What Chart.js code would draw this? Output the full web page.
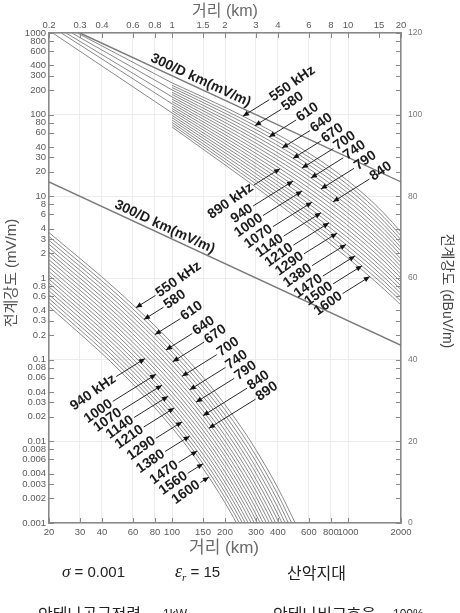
<!DOCTYPE html>
<html>
<head>
<meta charset="utf-8">
<script src="https://cdn.jsdelivr.net/npm/chart.js@4.4.1/dist/chart.umd.min.js"></script>
<style>
html, body { margin: 0; padding: 0; background: #fff; }
canvas { display: block; }
</style>
</head>
<body>
<canvas id="chart" width="460" height="613"></canvas>
<script>
Chart.defaults.font.family = 'Arial, "Liberation Sans", sans-serif';

// 주파수 (kHz) - 곡선 20개
const freqs = [550, 580, 610, 640, 670, 700, 740, 790, 840, 890, 940, 1000, 1070, 1140, 1210, 1290, 1380, 1470, 1560, 1600];

// 근거리 곡선 (상단 축, km) / 전계강도 mV/m
const nearDist = [1, 2, 3, 5, 8, 12, 16, 20];
const nearField = [
  [245, 123, 79.4, 43.0, 22.2, 11.15, 6.20, 3.65],
  [229, 113, 72.2, 38.6, 19.8, 9.94, 5.54, 3.28],
  [215, 104, 65.6, 34.7, 17.7, 8.86, 4.95, 2.94],
  [201, 95.2, 59.6, 31.2, 15.8, 7.90, 4.43, 2.64],
  [188, 87.4, 54.1, 28.1, 14.1, 7.04, 3.95, 2.37],
  [177, 80.3, 49.2, 25.2, 12.6, 6.28, 3.53, 2.13],
  [165, 73.7, 44.7, 22.7, 11.2, 5.59, 3.16, 1.91],
  [155, 67.7, 40.6, 20.4, 10.0, 4.99, 2.82, 1.71],
  [145, 62.1, 36.9, 18.3, 8.96, 4.45, 2.52, 1.54],
  [136, 57.0, 33.5, 16.5, 8.00, 3.96, 2.25, 1.38],
  [127, 52.4, 30.5, 14.8, 7.14, 3.53, 2.01, 1.24],
  [119, 48.1, 27.7, 13.3, 6.38, 3.15, 1.80, 1.11],
  [112, 44.2, 25.2, 11.9, 5.69, 2.81, 1.61, 0.997],
  [105, 40.5, 22.9, 10.7, 5.08, 2.50, 1.43, 0.894],
  [98.0, 37.2, 20.8, 9.65, 4.54, 2.23, 1.28, 0.803],
  [91.8, 34.2, 18.9, 8.67, 4.05, 1.99, 1.145, 0.720],
  [86.0, 31.4, 17.2, 7.79, 3.62, 1.77, 1.02, 0.646],
  [80.5, 28.8, 15.6, 7.00, 3.23, 1.58, 0.914, 0.580],
  [75.4, 26.5, 14.2, 6.30, 2.88, 1.41, 0.817, 0.520],
  [70.6, 24.3, 12.9, 5.66, 2.58, 1.26, 0.730, 0.467]
];

// 0.2~1 km 구간 선
const shortStartDist = [0.29, 0.27, 0.25, 0.235, 0.21];
const shortEndField = [245, 201, 165, 136, 105];

// 원거리 곡선 (하단 축, km)
const farDist = [20, 50, 100, 150, 200, 250, 300, 400, 500];
const farField = [
  [3.60, 0.673, 0.160, 0.0610, 0.0281, 0.0144, 0.00785, 0.00267, 0.00101],
  [3.22, 0.600, 0.141, 0.0532, 0.0243, 0.0123, 0.00665, 0.00222, 0.00082],
  [2.89, 0.535, 0.124, 0.0465, 0.0210, 0.0105, 0.00564, 0.00185, 0.000667],
  [2.59, 0.477, 0.110, 0.0406, 0.0181, 0.00900, 0.00478, 0.00153, 0.000543],
  [2.32, 0.424, 0.0968, 0.0355, 0.0157, 0.00771, 0.00405, 0.00127, 0.000443],
  [2.08, 0.378, 0.0853, 0.0310, 0.0136, 0.00659, 0.00343, 0.00106, 0.00036],
  [1.87, 0.337, 0.0753, 0.0270, 0.0117, 0.00565, 0.00290, 0.000877, 0.000293],
  [1.67, 0.300, 0.0664, 0.0236, 0.0101, 0.00483, 0.00247, 0.000729, 0.000239],
  [1.50, 0.267, 0.0586, 0.0206, 0.00875, 0.00413, 0.00209, 0.000605, 0.000194],
  [1.34, 0.238, 0.0516, 0.0180, 0.00757, 0.00354, 0.00177, 0.000502, 0.000158],
  [1.20, 0.212, 0.0456, 0.0157, 0.00655, 0.00303, 0.00150, 0.000418],
  [1.08, 0.189, 0.0402, 0.0137, 0.00566, 0.00259, 0.00127, 0.000347],
  [0.968, 0.168, 0.0355, 0.0120, 0.00489, 0.00222, 0.00108, 0.000288],
  [0.867, 0.150, 0.0313, 0.0105, 0.00423, 0.00190, 0.000912, 0.000239],
  [0.778, 0.134, 0.0276, 0.00914, 0.00366, 0.00163, 0.000773],
  [0.697, 0.119, 0.0243, 0.00798, 0.00316, 0.00139, 0.000655],
  [0.625, 0.106, 0.0215, 0.00697, 0.00274, 0.00119, 0.000555],
  [0.560, 0.0944, 0.0189, 0.00608, 0.00237, 0.00102, 0.000471],
  [0.502, 0.0841, 0.0167, 0.00532, 0.00204, 0.000873, 0.000399],
  [0.450, 0.0750, 0.0147, 0.00465, 0.00177, 0.000746, 0.000338]
];

// 300/D 기준선
const refNearDist = [0.3, 20];
const refNearField = [1000, 15];
const refFarDist = [20, 2000];
const refFarField = [15, 0.15];

// 눈금
const nearTicks = [0.2, 0.3, 0.4, 0.6, 0.8, 1, 1.5, 2, 3, 4, 6, 8, 10, 15, 20];
const farTicks = [20, 30, 40, 60, 80, 100, 150, 200, 300, 400, 600, 800, 1000, 2000];
const fieldTicks = [0.001, 0.002, 0.003, 0.004, 0.006, 0.008, 0.01, 0.02, 0.03, 0.04, 0.06, 0.08,
  0.1, 0.2, 0.3, 0.4, 0.6, 0.8, 1, 2, 3, 4, 6, 8, 10, 20, 30, 40, 60, 80, 100, 200, 300, 400, 600, 800, 1000];
const dbDecades = [0.001, 0.01, 0.1, 1, 10, 100, 1000];
const dbTicks = [0, 20, 40, 60, 80, 100, 120];

// 곡선 라벨 (텍스트, 점의 거리)
const nearOutText = ['550 kHz', '580', '610', '640', '670', '700', '740', '790', '840'];
const nearOutDot = [2.53, 2.96, 3.56, 4.22, 4.87, 5.48, 6.16, 7.02, 8.22];
const nearInText = ['890 kHz', '940', '1000', '1070', '1140', '1210', '1290', '1380', '1470', '1500', '1600'];
const nearInDot = [4.11, 4.87, 5.48, 6.24, 7.02, 7.80, 8.66, 9.74, 10.96, 12.0, 13.3];
const farOutText = ['550 kHz', '580', '610', '640', '670', '700', '740', '790', '840', '890'];
const farOutDot = [62.4, 69.3, 80.0, 92.4, 101, 114, 126, 137, 150, 162];
const farInText = ['940 kHz', '1000', '1070', '1140', '1210', '1290', '1380', '1470', '1560', '1600'];
const farInDot = [70.2, 81.1, 87.7, 94.9, 103, 114, 126, 139, 150, 162];

const curveColor = '#8a8a8a';
const datasets = [];
nearField.forEach(row => {
  datasets.push({ xAxisID: 'xTop', yAxisID: 'y', data: row.map((v, k) => ({ x: nearDist[k], y: v })),
    borderColor: curveColor, borderWidth: 1 });
});
farField.forEach(row => {
  datasets.push({ xAxisID: 'x', yAxisID: 'y', data: row.map((v, k) => ({ x: farDist[k], y: v })),
    borderColor: curveColor, borderWidth: 1 });
});
shortStartDist.forEach((d, k) => {
  datasets.push({ xAxisID: 'xTop', yAxisID: 'y', data: [{ x: d, y: 1000 }, { x: 1, y: shortEndField[k] }],
    borderColor: curveColor, borderWidth: 1 });
});
const refNearIndex = datasets.length;
datasets.push({ xAxisID: 'xTop', yAxisID: 'y', data: refNearDist.map((d, k) => ({ x: d, y: refNearField[k] })),
  borderColor: '#7a7a7a', borderWidth: 1.4 });
const refFarIndex = datasets.length;
datasets.push({ xAxisID: 'x', yAxisID: 'y', data: refFarDist.map((d, k) => ({ x: d, y: refFarField[k] })),
  borderColor: '#7a7a7a', borderWidth: 1.4 });

// 라벨 그룹: 선 길이(px)는 그림에서 읽은 값
const labelGroups = [
  { scale: 'xTop', first: 0, text: nearOutText, dots: nearOutDot, out: true,
    len: [31, 31, 32, 33, 33, 37, 38, 39, 43] },
  { scale: 'xTop', first: 9, text: nearInText, dots: nearInDot, out: false,
    len: [31, 47, 46, 46, 44, 42, 39, 40, 38, 34, 32] },
  { scale: 'x', first: 20, text: farOutText, dots: farOutDot, out: true,
    len: [23, 23, 30, 31, 37, 41, 42, 45, 52, 55] },
  { scale: 'x', first: 30, text: farInText, dots: farInDot, out: false,
    len: [34, 51, 47, 40, 36, 31, 29, 22, 18, 10] }
];

function drawCurveLabel(chart, dsIndex, scaleId, dist, text, len, out) {
  const c = chart.ctx;
  const meta = chart.getDatasetMeta(dsIndex);
  const px = chart.scales[scaleId].getPixelForValue(dist);
  let pt = meta.dataset.interpolate({ x: px }, 'x');
  if (Array.isArray(pt)) pt = pt[0];
  if (!pt) return;
  const la = -32 * Math.PI / 180;
  const ta = -35 * Math.PI / 180;
  const s = out ? 1 : -1;
  const ux = Math.cos(la), uy = Math.sin(la);
  const ex = pt.x + s * len * ux, ey = pt.y + s * len * uy;
  c.strokeStyle = '#2a2a2a';
  c.lineWidth = 1;
  c.beginPath();
  c.moveTo(ex, ey);
  c.lineTo(pt.x, pt.y);
  c.stroke();
  // 화살촉
  const dx = -s * ux, dy = -s * uy;
  c.fillStyle = '#111';
  c.beginPath();
  c.moveTo(pt.x, pt.y);
  c.lineTo(pt.x - 6 * dx - 2.6 * dy, pt.y - 6 * dy + 2.6 * dx);
  c.lineTo(pt.x - 6 * dx + 2.6 * dy, pt.y - 6 * dy - 2.6 * dx);
  c.closePath();
  c.fill();
  c.save();
  c.translate(ex + s * 2 * ux, ey + s * 2 * uy);
  c.rotate(ta);
  c.font = 'bold 14px Arial, "Liberation Sans", sans-serif';
  c.fillStyle = '#1c1c1c';
  c.textAlign = out ? 'left' : 'right';
  c.textBaseline = 'middle';
  c.fillText(text, 0, 0);
  c.restore();
}

function drawRefLabel(chart, dsIndex, scaleId, dist) {
  const c = chart.ctx;
  const pts = chart.getDatasetMeta(dsIndex).data;
  const p1 = pts[0], p2 = pts[pts.length - 1];
  const px = chart.scales[scaleId].getPixelForValue(dist);
  const py = p1.y + (px - p1.x) * (p2.y - p1.y) / (p2.x - p1.x);
  const ang = Math.atan2(p2.y - p1.y, p2.x - p1.x);
  c.save();
  c.translate(px, py);
  c.rotate(ang);
  c.font = 'bold 14px Arial, "Liberation Sans", sans-serif';
  c.fillStyle = '#1c1c1c';
  c.textAlign = 'left';
  c.textBaseline = 'alphabetic';
  c.fillText('300/D km(mV/m)', 0, -4);
  c.restore();
}

const overlay = {
  id: 'overlay',
  beforeDraw(chart) {
    const c = chart.ctx;
    c.save();
    c.fillStyle = '#fff';
    c.fillRect(0, 0, chart.width, chart.height);
    c.restore();
  },
  afterDatasetsDraw(chart) {
    const c = chart.ctx, a = chart.chartArea, s = chart.scales;
    c.save();
    // 안쪽 눈금
    c.strokeStyle = '#888';
    c.lineWidth = 1;
    c.beginPath();
    s.x.ticks.forEach(t => {
      const p = Math.round(s.x.getPixelForValue(t.value)) + 0.5;
      c.moveTo(p, a.bottom); c.lineTo(p, a.bottom - 5);
    });
    s.xTop.ticks.forEach(t => {
      const p = Math.round(s.xTop.getPixelForValue(t.value)) + 0.5;
      c.moveTo(p, a.top); c.lineTo(p, a.top + 5);
    });
    s.y.ticks.forEach(t => {
      const p = Math.round(s.y.getPixelForValue(t.value)) + 0.5;
      c.moveTo(a.left, p); c.lineTo(a.left + 5, p);
    });
    s.yRight.ticks.forEach(t => {
      const p = Math.round(s.yRight.getPixelForValue(t.value)) + 0.5;
      c.moveTo(a.right, p); c.lineTo(a.right - 5, p);
    });
    c.stroke();

    drawRefLabel(chart, refNearIndex, 'xTop', 0.73);
    drawRefLabel(chart, refFarIndex, 'x', 45.6);

    labelGroups.forEach(g => {
      g.text.forEach((t, j) => {
        drawCurveLabel(chart, g.first + j, g.scale, g.dots[j], t, g.len[j], g.out);
      });
    });
    c.restore();
  },
  afterDraw(chart) {
    const c = chart.ctx;
    const kr = '"Noto Sans CJK KR", Arial, sans-serif';
    c.save();
    c.textBaseline = 'middle';
    c.textAlign = 'center';
    c.fillStyle = '#6a6a6a';
    c.font = '16px Arial, ' + kr;
    c.fillText('거리 (km)', 225, 12);
    c.font = '17px Arial, ' + kr;
    c.fillText('거리 (km)', 224, 548);

    c.save();
    c.translate(12, 273);
    c.rotate(-Math.PI / 2);
    c.font = '15px Arial, ' + kr;
    c.fillStyle = '#555';
    c.fillText('전계강도 (mV/m)', 0, 0);
    c.restore();

    c.save();
    c.translate(447, 291);
    c.rotate(Math.PI / 2);
    c.font = '14px Arial, ' + kr;
    c.fillStyle = '#444';
    c.fillText('전계강도 (dBuV/m)', 0, 0);
    c.restore();

    // 조건 표시
    c.textAlign = 'left';
    c.fillStyle = '#222';
    let x = 62;
    c.font = 'italic 17px "Liberation Serif", serif';
    c.fillText('σ', x, 573);
    x += c.measureText('σ').width;
    c.font = '15px Arial, sans-serif';
    c.fillText(' = 0.001', x, 573);

    x = 175;
    c.font = 'italic 18px "Liberation Serif", serif';
    c.fillText('ε', x, 572);
    x += c.measureText('ε').width;
    c.font = 'italic 11px "Liberation Serif", serif';
    c.fillText('r', x, 578);
    x += c.measureText('r').width;
    c.font = '15px Arial, sans-serif';
    c.fillText(' = 15', x, 573);

    c.font = '16px ' + kr;
    c.fillText('산악지대', 287, 573);

    c.font = '16px ' + kr;
    c.fillText('안테나공급전력', 38, 614);
    c.font = '12px Arial, sans-serif';
    c.fillText('1kW', 163, 615);
    c.font = '16px ' + kr;
    c.fillText('안테나비교효율', 273, 614);
    c.font = '12px Arial, sans-serif';
    c.fillText('100%', 393, 615);
    c.restore();
  }
};

const tickFont = { size: 9.5 };
const dbLabel = v => {
  const k = dbDecades.indexOf(v);
  return k < 0 ? '' : String(dbTicks[k]);
};

new Chart(document.getElementById('chart'), {
  type: 'line',
  data: { datasets: datasets },
  options: {
    responsive: false,
    animation: false,
    devicePixelRatio: 1,
    layout: { padding: 0 },
    plugins: { legend: { display: false }, tooltip: { enabled: false } },
    elements: {
      point: { radius: 0 },
      line: { cubicInterpolationMode: 'monotone', capBezierPoints: false }
    },
    scales: {
      x: {
        type: 'logarithmic', position: 'bottom', min: 20, max: 2000,
        afterBuildTicks: s => { s.ticks = farTicks.map(v => ({ value: v })); },
        afterFit: s => { s.height = 90; },
        ticks: { autoSkip: false, maxRotation: 0, minRotation: 0, padding: 4, font: tickFont, color: '#5a5a5a',
          callback: v => String(v) },
        grid: { drawTicks: false, color: '#ececec' },
        border: { color: '#888', width: 1.5 }
      },
      xTop: {
        type: 'logarithmic', position: 'top', min: 0.2, max: 20,
        afterBuildTicks: s => { s.ticks = nearTicks.map(v => ({ value: v })); },
        afterFit: s => { s.height = 33; },
        ticks: { autoSkip: false, maxRotation: 0, minRotation: 0, padding: 2, font: tickFont, color: '#5a5a5a',
          callback: v => String(v) },
        grid: { drawTicks: false, drawOnChartArea: false },
        border: { color: '#888', width: 1.5 }
      },
      y: {
        type: 'logarithmic', position: 'left', min: 0.001, max: 1000,
        afterBuildTicks: s => { s.ticks = fieldTicks.map(v => ({ value: v })); },
        afterFit: s => { s.width = 49; },
        ticks: { autoSkip: false, padding: 3, font: tickFont, color: '#5a5a5a', callback: v => String(v) },
        grid: { drawTicks: false, color: ctx => dbDecades.indexOf(ctx.tick && ctx.tick.value) >= 0 ? '#ececec' : 'rgba(0,0,0,0)' },
        border: { color: '#888', width: 1.5 }
      },
      yRight: {
        type: 'logarithmic', position: 'right', min: 0.001, max: 1000,
        afterBuildTicks: s => { s.ticks = fieldTicks.map(v => ({ value: v })); },
        afterFit: s => { s.width = 59; },
        ticks: { autoSkip: false, padding: 7, font: { size: 8.5 }, color: '#777', callback: dbLabel },
        grid: { drawTicks: false, drawOnChartArea: false },
        border: { color: '#888', width: 1.5 }
      }
    }
  },
  plugins: [overlay]
});
</script>
</body>
</html>
